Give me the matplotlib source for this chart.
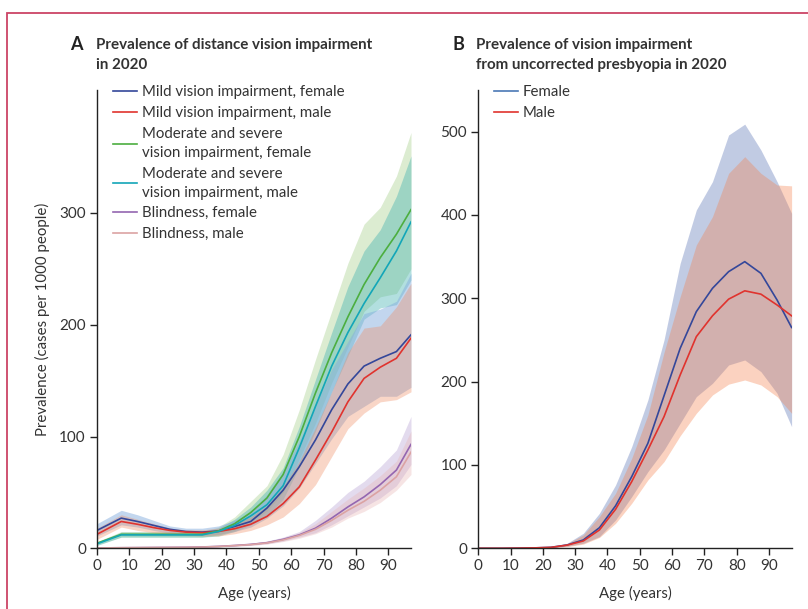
import matplotlib
matplotlib.use("Agg")
import matplotlib.pyplot as plt
from matplotlib.patches import Rectangle

plt.rcParams['font.family'] = ['Lato', 'DejaVu Sans']

ages = [0, 7.5, 12.5, 17.5, 22.5, 27.5, 32.5, 37.5, 42.5, 47.5, 52.5, 57.5,
        62.5, 67.5, 72.5, 77.5, 82.5, 87.5, 92.5, 97]

# Panel A: distance vision impairment (cases per 1000)
mild_f = [16, 27, 24, 20.5, 17, 15, 14.5, 15.5, 19.5, 24, 36, 52, 73, 97, 124, 147, 163, 170, 176, 191]
mild_f_lo = [11, 21, 19, 16, 13.5, 12, 11.5, 12.5, 15, 19, 27, 38, 54, 76, 98, 118, 127, 136, 136, 144]
mild_f_hi = [22, 34, 30, 25, 20, 18, 18, 20, 25, 32, 48, 68, 96, 128, 160, 185, 210, 214, 221, 246]
mild_m = [12.5, 24, 21.5, 18.5, 16, 14.5, 14, 15, 17.5, 21.5, 28.5, 40, 55, 79, 104, 131, 152, 162, 170, 188]
mild_m_lo = [8, 19, 16, 14, 12.5, 11.5, 11, 11, 13, 16, 21, 28, 40, 57, 82, 107, 121, 131, 133, 140]
mild_m_hi = [18, 30, 26, 22, 18, 16.5, 16.5, 18, 22, 28, 38, 55, 78, 108, 140, 175, 197, 199, 216, 237]
mod_f = [4.5, 12.5, 12.5, 12.5, 12.5, 12.5, 12.5, 15.5, 22, 32, 45, 66, 100, 139, 175, 207, 236, 260, 281, 303]
mod_f_lo = [3, 10, 10, 10, 10, 10, 10, 12, 16, 24, 33, 50, 80, 112, 148, 180, 212, 225, 228, 250]
mod_f_hi = [6, 15, 15, 15, 15, 15, 15, 19, 28, 42, 56, 84, 124, 169, 212, 255, 290, 305, 333, 372]
mod_m = [4, 12, 12, 12, 12, 12, 12, 15, 20.5, 29, 39, 56, 90, 127, 163, 193, 219, 242, 266, 292]
mod_m_lo = [2.5, 10, 10, 10, 10, 10, 10, 11, 15, 21, 29, 44, 73, 105, 140, 172, 205, 215, 218, 240]
mod_m_hi = [5.5, 14.5, 14.5, 14.5, 14.5, 14.5, 14.5, 18, 26, 37, 52, 72, 109, 151, 193, 234, 266, 285, 315, 351]
blind_f = [0.3, 0.5, 0.6, 0.7, 0.8, 0.9, 1.2, 1.7, 2.5, 3.5, 5, 8, 12, 18, 27, 37, 46, 57, 70, 93]
blind_f_lo = [0.2, 0.3, 0.4, 0.5, 0.6, 0.7, 0.9, 1.3, 1.9, 2.7, 4, 6.5, 10, 14, 21, 29, 37, 45, 56, 75]
blind_f_hi = [0.5, 0.7, 0.8, 0.9, 1.0, 1.2, 1.6, 2.2, 3.2, 4.5, 6.5, 10, 15, 25, 37, 50, 60, 73, 88, 118]
blind_m = [0.3, 0.5, 0.6, 0.7, 0.8, 0.9, 1.1, 1.6, 2.4, 3.3, 4.8, 7.5, 11.5, 17, 25, 34, 42, 52, 64, 86]
blind_m_lo = [0.2, 0.3, 0.4, 0.5, 0.6, 0.7, 0.8, 1.2, 1.8, 2.6, 3.8, 6, 9, 13, 19, 27, 33, 41, 52, 66]
blind_m_hi = [0.5, 0.7, 0.8, 0.9, 1.0, 1.1, 1.5, 2.1, 3.1, 4.3, 6.2, 9.5, 14, 22, 33, 44, 54, 65, 78, 105]

# Panel B: uncorrected presbyopia (cases per 1000)
pres_f = [0, 0, 0.2, 0.5, 1.2, 4, 10, 24.7, 51, 86, 126, 183, 240, 284, 312, 332, 344, 330, 298, 265]
pres_f_lo = [0, 0, 0.1, 0.3, 0.8, 2.5, 6, 14, 34, 62, 92, 118, 150, 182, 198, 220, 226, 212, 186, 146]
pres_f_hi = [0, 0, 0.3, 0.7, 2, 6, 18, 42, 76, 122, 178, 250, 342, 406, 440, 496, 509, 478, 440, 402]
pres_m = [0, 0, 0.2, 0.5, 1.1, 3.8, 8.8, 22, 46.8, 80, 118, 158, 208, 254, 279, 299, 309, 305, 292, 279]
pres_m_lo = [0, 0, 0.1, 0.3, 0.7, 2, 5, 13, 30, 54, 82, 104, 135, 162, 184, 197, 202, 196, 182, 162]
pres_m_hi = [0, 0, 0.3, 0.7, 1.8, 5.5, 16, 38, 66, 108, 160, 235, 302, 364, 398, 450, 470, 450, 436, 435]

labels_a = ["Mild vision impairment, female", "Mild vision impairment, male",
            "Moderate and severe\nvision impairment, female",
            "Moderate and severe\nvision impairment, male",
            "Blindness, female", "Blindness, male"]
labels_b = ["Female", "Male"]
xticks = [0, 10, 20, 30, 40, 50, 60, 70, 80, 90]
yticks_a = [0, 100, 200, 300]
yticks_b = [0, 100, 200, 300, 400, 500]

W, H = 808, 609
fig = plt.figure(figsize=(W / 100, H / 100), dpi=100)

ax_a = fig.add_axes([97 / W, (H - 548.3) / H, (411 - 97) / W, (548.3 - 90) / H])
ax_b = fig.add_axes([478.3 / W, (H - 548.3) / H, (791.6 - 478.3) / W, (548.3 - 90) / H])

C_MF = '#34479a'
C_MM = '#e0332e'
C_GF = '#4cae3f'
C_TM = '#13a6b8'
C_BF = '#9466b0'
C_BM = '#dba3a3'
TXT = '#333333'

# bands panel A
ax_a.fill_between(ages, mod_f_lo, mod_f_hi, color='#a8d08d', alpha=0.4, lw=0)
ax_a.fill_between(ages, mod_m_lo, mod_m_hi, color='#3fb0b0', alpha=0.4, lw=0)
ax_a.fill_between(ages, mild_f_lo, mild_f_hi, color='#86aede', alpha=0.5, lw=0)
ax_a.fill_between(ages, mild_m_lo, mild_m_hi, color='#f08a60', alpha=0.35, lw=0)
ax_a.fill_between(ages, blind_f_lo, blind_f_hi, color='#c2b0da', alpha=0.45, lw=0)
ax_a.fill_between(ages, blind_m_lo, blind_m_hi, color='#e8b4b4', alpha=0.35, lw=0)

lw = 1.2
ax_a.plot(ages, mild_f, color=C_MF, lw=lw, label=labels_a[0])
ax_a.plot(ages, mild_m, color=C_MM, lw=lw, label=labels_a[1])
ax_a.plot(ages, mod_f, color=C_GF, lw=lw, label=labels_a[2])
ax_a.plot(ages, mod_m, color=C_TM, lw=lw, label=labels_a[3])
ax_a.plot(ages, blind_f, color=C_BF, lw=lw, label=labels_a[4])
ax_a.plot(ages, blind_m, color=C_BM, lw=lw, label=labels_a[5])

# panel B
ax_b.fill_between(ages, pres_f_lo, pres_f_hi, color='#667dbb', alpha=0.4, lw=0)
ax_b.fill_between(ages, pres_m_lo, pres_m_hi, color='#f4804b', alpha=0.35, lw=0)
lf, = ax_b.plot(ages, pres_f, color=C_MF, lw=lw)
lm, = ax_b.plot(ages, pres_m, color=C_MM, lw=lw)

for ax, yt, ymax in [(ax_a, yticks_a, 410), (ax_b, yticks_b, 550)]:
    ax.set_xlim(0, 97)
    ax.set_ylim(0, ymax)
    ax.set_xticks(xticks)
    ax.set_yticks(yt)
    for s in ['top', 'right']:
        ax.spines[s].set_visible(False)
    for s in ['left', 'bottom']:
        ax.spines[s].set_linewidth(1.0)
        ax.spines[s].set_color('#222222')
    ax.tick_params(direction='out', length=5, width=1.0, color='#222222',
                   labelsize=11, labelcolor=TXT, pad=3)
    ax.set_xlabel('Age (years)', fontsize=10.8, color=TXT, labelpad=9)
    ax.patch.set_visible(False)

ax_a.set_ylabel('Prevalence (cases per 1000 people)', fontsize=10.8, color=TXT, labelpad=7)

LFS = 10.8
leg_kw = dict(loc='upper left', frameon=False, fontsize=LFS, handlelength=1.6,
              handletextpad=0.33, labelspacing=0.45, borderaxespad=0, borderpad=0)
leg_a = ax_a.legend(bbox_to_anchor=(0.051, 1.01), **leg_kw)
for t in leg_a.get_texts():
    t.set_color(TXT)
    t.set_linespacing(1.45)
leg_b = ax_b.legend([lf, lm], labels_b, bbox_to_anchor=(0.05, 1.01), **leg_kw)
leg_b.get_lines()[0].set_color('#4a78b5')
for t in leg_b.get_texts():
    t.set_color(TXT)

# titles
fig.text(70 / W, 1 - 44 / H, 'A', fontsize=13, fontweight='bold', color='#222222', va='center')
fig.text(96 / W, 1 - 55 / H, 'Prevalence of distance vision impairment\nin 2020', fontsize=10.9,
         fontweight='bold', color=TXT, va='center', linespacing=1.6)
fig.text(452 / W, 1 - 44 / H, 'B', fontsize=13, fontweight='bold', color='#222222', va='center')
fig.text(476 / W, 1 - 55 / H, 'Prevalence of vision impairment\nfrom uncorrected presbyopia in 2020',
         fontsize=10.9, fontweight='bold', color=TXT, va='center', linespacing=1.6)

# frame border
fig.patches.append(Rectangle((7 / W, -0.1), 1.2, 1 - 13 / H + 0.1, transform=fig.transFigure,
                             fill=False, edgecolor='#cc4466', lw=1.3, figure=fig))

fig.savefig('out.png', dpi=100)
